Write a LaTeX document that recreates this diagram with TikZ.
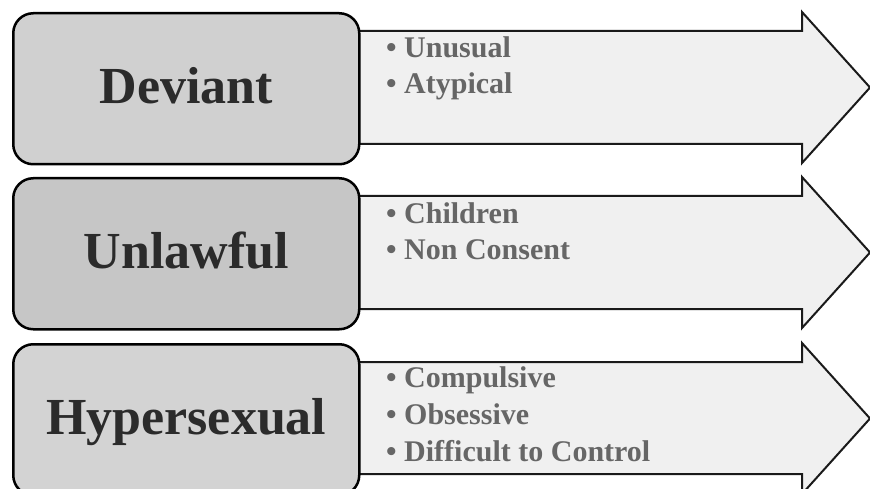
\documentclass[tikz,border=0pt]{standalone}
\usepackage{fontspec}
\setmainfont{Liberation Serif}
\definecolor{boxA}{HTML}{D0D0D0}
\definecolor{boxB}{HTML}{C6C6C6}
\definecolor{boxC}{HTML}{D3D3D3}
\definecolor{arrowfill}{HTML}{F0F0F0}
\definecolor{arrowline}{HTML}{1A1A1A}
\definecolor{titlegray}{HTML}{2B2B2B}
\definecolor{itemgray}{HTML}{666666}
\begin{document}
\begin{tikzpicture}[x=1pt,y=-1pt,
  cat/.style={draw=black, line width=2.5pt, rounded corners=20pt,
    minimum width=346pt, minimum height=151pt, inner sep=0pt,
    text height=41pt, text depth=11pt,
    font=\fontsize{52}{62}\selectfont\bfseries, text=titlegray, anchor=north west},
  arr/.style={draw=arrowline, line width=2pt, fill=arrowfill, line join=miter},
  item/.style={anchor=base west, inner sep=0pt,
    font=\fontsize{30}{36}\selectfont\bfseries, text=itemgray}]
\useasboundingbox (0,0) rectangle (870,489);
\fill[white] (0,0) rectangle (870,489);

% row 1
\draw[arr] (350,31) -- (802,31) -- (802,12) -- (870,87.5) -- (802,163) -- (802,144) -- (350,144) -- cycle;
\node[cat, fill=boxA] (deviant) at (12,12) {Deviant};
\node[item] (i11) at (386,58) {• Unusual};
\node[item] (i12) at (386,94) {• Atypical};

% row 2
\draw[arr] (350,196) -- (802,196) -- (802,177) -- (870,252.5) -- (802,328) -- (802,309) -- (350,309) -- cycle;
\node[cat, fill=boxB] (unlawful) at (12,177) {Unlawful};
\node[item] (i21) at (386,223) {• Children};
\node[item] (i22) at (386,259) {• Non Consent};

% row 3
\draw[arr] (350,362) -- (802,362) -- (802,343) -- (870,418.5) -- (802,494) -- (802,474) -- (350,474) -- cycle;
\node[cat, fill=boxC] (hyper) at (12,343) {Hypersexual};
\node[item] (i31) at (386,387) {• Compulsive};
\node[item] (i32) at (386,424) {• Obsessive};
\node[item] (i33) at (386,461) {• Difficult to Control};
\end{tikzpicture}
\end{document}
